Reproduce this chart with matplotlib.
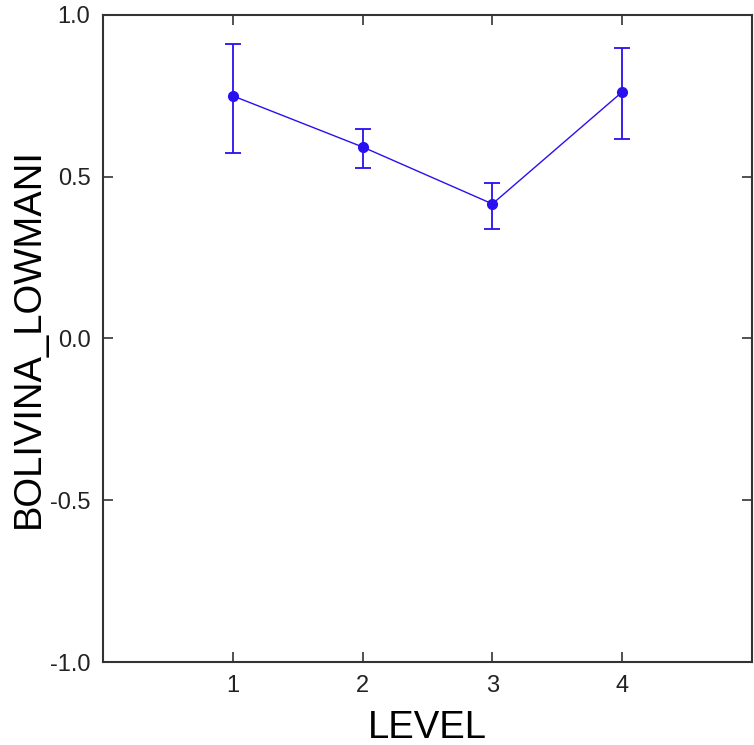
import matplotlib
matplotlib.use('Agg')
import matplotlib.pyplot as plt

plt.rcParams['font.family'] = ['Liberation Sans', 'DejaVu Sans']

# Data
level = [1, 2, 3, 4]
mean = [0.75, 0.592, 0.416, 0.762]
err_low = [0.573, 0.527, 0.338, 0.617]
err_high = [0.910, 0.648, 0.481, 0.898]

yerr = [[m - lo for m, lo in zip(mean, err_low)],
        [hi - m for m, hi in zip(mean, err_high)]]

fig = plt.figure(figsize=(7.54, 7.45), dpi=100)
ax = fig.add_axes([0.1366, 0.1114, 0.8607, 0.8685])

blue = '#2a0ff0'
ax.errorbar(level, mean, yerr=yerr, color=blue, marker='o', markersize=7,
            linewidth=1, elinewidth=1.3, capsize=6, capthick=1.3)

ax.set_xlim(0, 5)
ax.set_ylim(-1, 1)
ax.set_xticks([1, 2, 3, 4])
ax.set_yticks([-1.0, -0.5, 0.0, 0.5, 1.0])
ax.set_yticklabels(['-1.0', '-0.5', '0.0', '0.5', '1.0'])
ax.tick_params(direction='in', length=7, width=1.2, top=True, right=True,
               labelsize=17, colors='#333333', labelcolor='#222222', pad=9)
for s in ax.spines.values():
    s.set_linewidth(1.5)
    s.set_color('#333333')

ax.set_xlabel('LEVEL', fontsize=27.5, va='baseline')
ax.xaxis.set_label_coords(0.5, -0.117)
ax.set_ylabel('BOLIVINA_LOWMANI', fontsize=27.5)
ax.yaxis.set_label_coords(-0.086, 0.5)

fig.savefig('out.png', dpi=100)
